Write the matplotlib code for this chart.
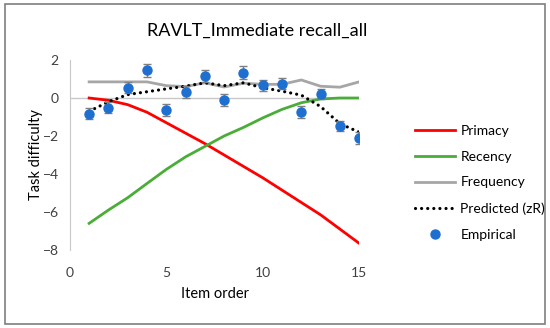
import numpy as np
import matplotlib
matplotlib.use("Agg")
import matplotlib.pyplot as plt
from matplotlib.patches import Rectangle

plt.rcParams['font.family'] = ['Lato', 'DejaVu Sans']

# item order 1..15
items = [1, 2, 3, 4, 5, 6, 7, 8, 9, 10, 11, 12, 13, 14, 15]

primacy = [0.0, -0.12, -0.35, -0.75, -1.3, -1.85, -2.4, -3.0, -3.6, -4.2,
           -4.85, -5.5, -6.15, -6.9, -7.65]
recency = [-6.6, -5.9, -5.25, -4.5, -3.76, -3.1, -2.55, -2.0, -1.55, -1.05,
           -0.6, -0.25, -0.05, 0.0, 0.0]
frequency = [0.85, 0.85, 0.85, 0.85, 0.65, 0.6, 0.8, 0.58, 0.78, 0.72,
             0.72, 0.95, 0.62, 0.57, 0.85]
predicted = [-0.7, -0.2, 0.18, 0.33, 0.48, 0.62, 0.8, 0.65, 0.8, 0.54,
             0.36, 0.15, -0.45, -1.35, -1.8]
empirical = [-0.82, -0.5, 0.55, 1.45, -0.64, 0.32, 1.18, -0.11, 1.34, 0.66,
             0.76, -0.73, 0.22, -1.48, -2.1]
emp_err = [0.3, 0.28, 0.3, 0.35, 0.3, 0.3, 0.32, 0.3, 0.35, 0.3,
           0.3, 0.3, 0.25, 0.26, 0.3]

fig = plt.figure(figsize=(5.5, 3.28), dpi=100)
fig.patches.append(Rectangle((0.009, 0.012), 0.982, 0.976, transform=fig.transFigure,
                             fill=False, edgecolor='#7f7f7f', linewidth=1.2))
ax = fig.add_axes([0.127, 0.238, 0.526, 0.579])

ax.axhline(0, color='#c8c8c8', linewidth=1, zorder=1)
ax.plot(items, primacy, color='#ff0000', linewidth=2, label='Primacy', zorder=3)
ax.plot(items, recency, color='#4aad38', linewidth=2, label='Recency', zorder=3)
ax.plot(items, frequency, color='#a6a6a6', linewidth=2, label='Frequency', zorder=2)
ax.plot(items, predicted, color='black', linewidth=2.3, linestyle=(0, (0.01, 1.9)),
        dash_capstyle='round', label='Predicted (zR)', zorder=4)
ax.errorbar(items, empirical, yerr=emp_err, fmt='none', ecolor='#7f7f7f',
            elinewidth=1, capsize=3, zorder=5)
ax.plot(items, empirical, 'o', color='#1f6fd0', markersize=6.5, label='Empirical',
        linestyle='none', zorder=6)

ax.set_xlim(0, 15)
ax.set_ylim(-8, 2)
ax.set_xticks([0, 5, 10, 15])
ax.set_yticks([-8, -6, -4, -2, 0, 2])
ax.tick_params(length=0, labelsize=10, colors='#404040', pad=8)
ax.tick_params(axis='x', pad=12)
for s in ['top', 'right', 'bottom']:
    ax.spines[s].set_visible(False)
ax.spines['left'].set_color('#c8c8c8')

ax.set_xlabel('Item order', fontsize=10.5, labelpad=6)
ax.set_ylabel('Task difficulty', fontsize=10.5, labelpad=0)
fig.text(0.468, 0.905, 'RAVLT_Immediate recall_all', ha='center', va='center', fontsize=13)

fig.legend(loc='upper left', bbox_to_anchor=(0.731, 0.658), frameon=False,
           fontsize=10, handlelength=2.9, labelspacing=1.0, handletextpad=0.4)

fig.savefig('out.png', dpi=100)
